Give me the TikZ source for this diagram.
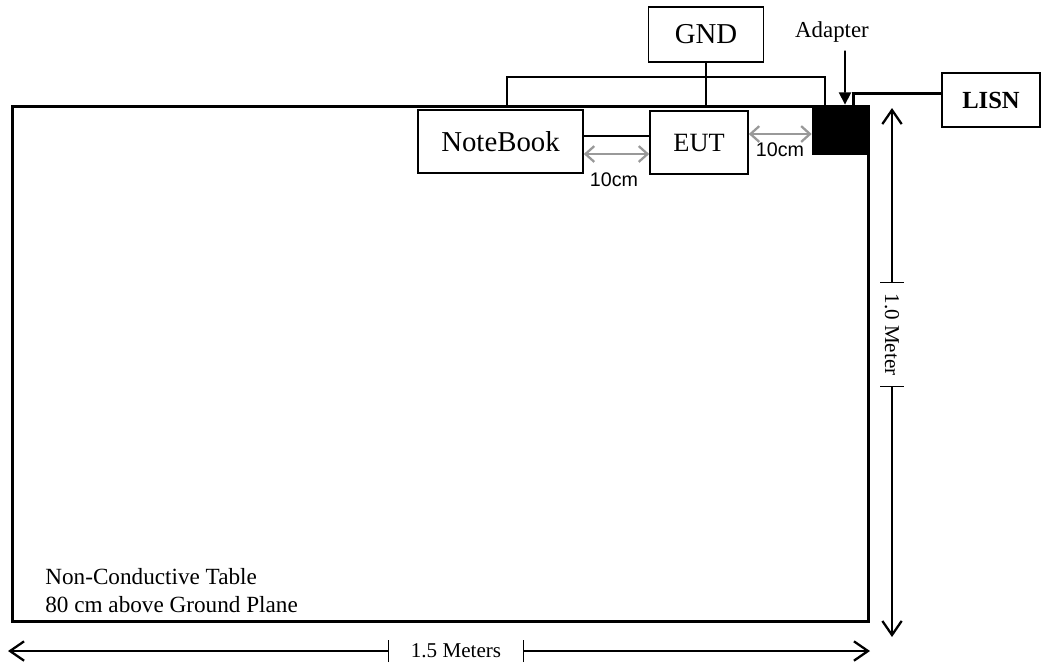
\documentclass[tikz,border=0pt]{standalone}
\usepackage{fontspec}
\setmainfont{Liberation Serif}
\newfontfamily\arialfont{Liberation Sans}
\usetikzlibrary{arrows.meta,positioning}

\begin{document}
\begin{tikzpicture}[x=0.02cm,y=-0.02cm,
    box/.style={draw,line width=0.9pt,inner sep=0pt},
    wire/.style={line width=0.9pt},
    dim/.style={line width=0.8pt},
    dimtip/.style={-{Straight Barb[length=8pt,width=11pt,line width=1.3pt]}},
    gaparrow/.style={{Straight Barb[length=5pt,width=9pt]}-{Straight Barb[length=5pt,width=9pt]},
        draw=gray!80,line width=1.3pt},
    gaplabel/.style={font=\arialfont\fontsize{11.2}{13}\selectfont,inner sep=0pt}]
    \useasboundingbox (0,0) rectangle (1047,664);
    % Table
    \node[draw,line width=1.7pt,minimum width=17.14cm,minimum height=10.32cm] (table) at (440.5,364) {};
    \node[anchor=west,align=left,inner sep=0pt,font=\fontsize{13.2}{16.4}\selectfont] (tabletext) at (45,590.5)
        {Non-Conductive Table\\80 cm above Ground Plane};
    % Boxes
    \node[box,minimum width=3.3cm,minimum height=1.26cm,font=\fontsize{16.4}{19}\selectfont] (notebook) at (500.5,141.5) {NoteBook};
    \node[box,minimum width=1.96cm,minimum height=1.26cm,font=\fontsize{15}{18}\selectfont] (eut) at (699,142.5) {EUT};
    \node[box,minimum width=2.3cm,minimum height=1.1cm,font=\fontsize{16.4}{19}\selectfont] (gnd) at (706,34.5) {GND};
    \node[box,minimum width=1.96cm,minimum height=1.08cm,font=\bfseries\fontsize{14}{17}\selectfont] (lisn) at (991,100) {LISN};
    \node[fill=black,minimum width=1.1cm,minimum height=0.94cm,inner sep=0pt] (adapter) at (839.5,131.5) {};
    \node[inner sep=0pt,font=\fontsize{13}{15}\selectfont] (adlabel) at (832,32) {Adapter};
    % Ground wiring
    \coordinate (bus) at (706,77);
    \draw[wire] (gnd.south) -- (bus) -- (bus |- table.north);
    \draw[wire] ([xshift=0.13cm]notebook.north |- table.north) |- (bus) -| ([xshift=-0.29cm]adapter.north);
    \draw[wire] ([yshift=0.11cm]notebook.east) -- ([yshift=0.11cm]notebook.east -| eut.west);
    % Power
    \draw[line width=1.7pt] ([yshift=0.14cm]lisn.west) -| ([xshift=0.27cm]adapter.north |- table.north);
    \draw[wire,-{Triangle[length=7pt,width=7pt]}] ([xshift=0.26cm]adlabel.south) ++(0,8) -- ([xshift=0.11cm]adapter.north |- table.north);
    % Spacing
    \draw[gaparrow] ([yshift=-0.25cm]notebook.east) -- ([yshift=-0.25cm]notebook.east -| eut.west);
    \node[gaplabel] (gap1) at (614,180) {10cm};
    \draw[gaparrow] ([yshift=0.17cm]eut.east) -- ([yshift=0.17cm]eut.east -| adapter.west);
    \node[gaplabel] (gap2) at (780,150) {10cm};
    % Dimensions
    \coordinate (vtop) at (892,108);
    \coordinate (vbot) at (892,637);
    \node[rotate=-90,inner sep=0pt,minimum width=2.06cm,font=\fontsize{12}{14}\selectfont] (vdim) at (892,334.5) {1.0 Meter};
    \draw[dim,dimtip] (vdim.west) -- (vtop);
    \draw[dim,dimtip] (vdim.east) -- (vbot);
    \draw[dim] ([xshift=-0.24cm]vdim.west) -- ([xshift=0.24cm]vdim.west);
    \draw[dim] ([xshift=-0.24cm]vdim.east) -- ([xshift=0.24cm]vdim.east);
    \coordinate (hleft) at (8,651);
    \coordinate (hright) at (870,651);
    \node[inner sep=0pt,minimum width=2.68cm,font=\fontsize{12}{14}\selectfont] (hdim) at (456,651) {1.5 Meters};
    \draw[dim,dimtip] (hdim.west) -- (hleft);
    \draw[dim,dimtip] (hdim.east) -- (hright);
    \draw[dim] ([yshift=-0.22cm]hdim.west) -- ([yshift=0.22cm]hdim.west);
    \draw[dim] ([yshift=-0.22cm]hdim.east) -- ([yshift=0.22cm]hdim.east);
\end{tikzpicture}
\end{document}
